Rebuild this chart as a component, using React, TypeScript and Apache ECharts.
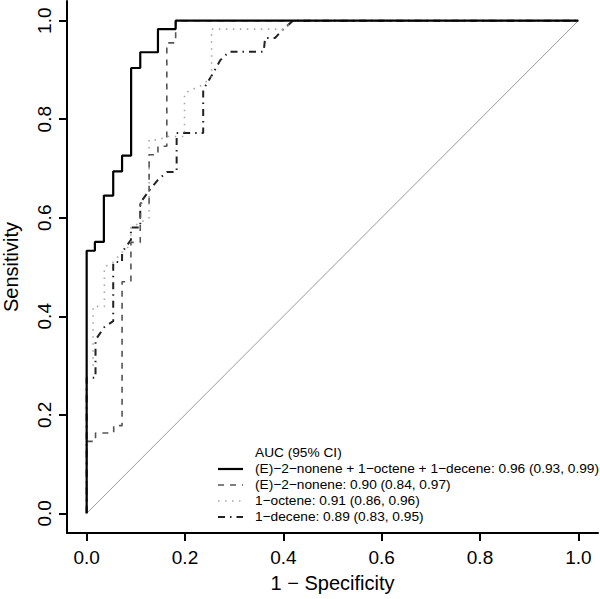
import React, { useEffect, useRef } from "react";
import * as echarts from "echarts";

const tickValues = [0, 0.2, 0.4, 0.6, 0.8, 1.0];
const xTitle = "1 − Specificity";
const yTitle = "Sensitivity";
const legendTitle = "AUC (95% CI)";

const seriesNames = [
  "(E)−2−nonene + 1−octene + 1−decene: 0.96 (0.93, 0.99)",
  "(E)−2−nonene: 0.90 (0.84, 0.97)",
  "1−octene: 0.91 (0.86, 0.96)",
  "1−decene: 0.89 (0.83, 0.95)",
];

const diagonal: [number, number][] = [[0, 0], [1, 1]];

const combo: [number, number][] = [
  [0, 0], [0, 0.533], [0.0167, 0.533], [0.0167, 0.551], [0.035, 0.551], [0.035, 0.645],
  [0.054, 0.645], [0.054, 0.694], [0.072, 0.694], [0.072, 0.726], [0.0904, 0.726],
  [0.0904, 0.904], [0.109, 0.904], [0.109, 0.936], [0.145, 0.936], [0.145, 0.983],
  [0.181, 0.983], [0.181, 1], [1, 1],
];

const nonene: [number, number][] = [
  [0, 0], [0, 0.146], [0.018, 0.146], [0.018, 0.163], [0.055, 0.163], [0.055, 0.178],
  [0.072, 0.178], [0.072, 0.47], [0.09, 0.47], [0.09, 0.55], [0.109, 0.55], [0.109, 0.63],
  [0.127, 0.63], [0.127, 0.728], [0.145, 0.728], [0.145, 0.745], [0.163, 0.745],
  [0.163, 0.955], [0.181, 0.955], [0.181, 1], [1, 1],
];

const octene: [number, number][] = [
  [0, 0], [0, 0.30], [0.013, 0.30], [0.013, 0.42], [0.036, 0.42], [0.036, 0.50],
  [0.054, 0.51], [0.072, 0.53], [0.09, 0.545], [0.09, 0.58], [0.127, 0.60], [0.127, 0.758],
  [0.145, 0.758], [0.163, 0.765], [0.199, 0.765], [0.199, 0.853], [0.236, 0.87],
  [0.254, 0.886], [0.254, 0.983], [0.40, 0.983], [0.42, 1], [1, 1],
];

const decene: [number, number][] = [
  [0, 0], [0, 0.275], [0.018, 0.275], [0.018, 0.352], [0.036, 0.378], [0.054, 0.39],
  [0.054, 0.51], [0.072, 0.51], [0.072, 0.53], [0.09, 0.555], [0.09, 0.58], [0.109, 0.58],
  [0.109, 0.63], [0.127, 0.655], [0.145, 0.677], [0.163, 0.693], [0.183, 0.693],
  [0.183, 0.772], [0.237, 0.772], [0.237, 0.86], [0.255, 0.89], [0.272, 0.92],
  [0.29, 0.937], [0.36, 0.937], [0.363, 0.965], [0.383, 0.965], [0.40, 0.983],
  [0.42, 1], [1, 1],
];

const FONT = "'Liberation Sans', Arial, Helvetica, sans-serif";

const styles = [
  { color: "#000000", width: 2.2, type: "solid" as any },
  { color: "#555555", width: 1.6, type: [6, 6] as any },
  { color: "#a8a8a8", width: 1.6, type: [1.5, 5.5] as any },
  { color: "#222222", width: 2, type: [7, 5, 1.5, 5] as any },
];

export default function App() {
  const ref = useRef<HTMLDivElement>(null);
  useEffect(() => {
    if (!ref.current) return;
    document.body.style.margin = "0";
    const chart = echarts.init(ref.current, null, { renderer: "svg" });
    const datasets = [combo, nonene, octene, decene];
    const legendX1 = 218;
    const legendX2 = 243;
    const legendY0 = 453;
    const legendStep = 16;
    const graphics: any[] = [
      {
        type: "text",
        left: 255,
        top: legendY0 - 8,
        style: { text: legendTitle, font: `13.7px ${FONT}`, fill: "#000" },
      },
    ];
    seriesNames.forEach((name, i) => {
      const y = legendY0 + legendStep * (i + 1);
      graphics.push({
        type: "line",
        shape: { x1: legendX1, y1: y, x2: legendX2, y2: y },
        style: {
          stroke: styles[i].color,
          lineWidth: styles[i].width,
          lineDash: styles[i].type === "solid" ? null : styles[i].type,
        },
      });
      graphics.push({
        type: "text",
        left: 255,
        top: y - 8,
        style: { text: name, font: `13.7px ${FONT}`, fill: "#000" },
      });
    });

    chart.setOption({
      animation: false,
      backgroundColor: "#ffffff",
      grid: { left: 67, right: 2, top: 1, bottom: 66, containLabel: false, outerBoundsMode: "none" },
      xAxis: {
        type: "value",
        min: -0.04,
        max: 1.04,
        name: xTitle,
        nameLocation: "middle",
        nameGap: 40,
        nameTextStyle: { fontFamily: FONT, fontSize: 20, color: "#000" },
        axisLine: { show: true, onZero: false, lineStyle: { color: "#000", width: 2 } },
        axisTick: { show: true, length: 8, customValues: tickValues, lineStyle: { color: "#000", width: 2 } },
        axisLabel: {
          customValues: tickValues,
          formatter: (v: number) => v.toFixed(1),
          fontFamily: FONT,
          fontSize: 19,
          color: "#000",
          margin: 15,
        },
        splitLine: { show: false },
      },
      yAxis: {
        type: "value",
        min: -0.04,
        max: 1.04,
        name: yTitle,
        nameLocation: "middle",
        nameGap: 46,
        nameRotate: 90,
        nameTextStyle: { fontFamily: FONT, fontSize: 20, color: "#000" },
        axisLine: { show: true, onZero: false, lineStyle: { color: "#000", width: 2 } },
        axisTick: { show: true, length: 8, customValues: tickValues, lineStyle: { color: "#000", width: 2 } },
        axisLabel: {
          customValues: tickValues,
          formatter: (v: number) => v.toFixed(1),
          rotate: 90,
          fontFamily: FONT,
          fontSize: 19,
          color: "#000",
          margin: 13,
        },
        splitLine: { show: false },
      },
      series: [
        {
          type: "line",
          data: diagonal,
          showSymbol: false,
          silent: true,
          lineStyle: { color: "#9a9a9a", width: 1 },
        },
        ...datasets.map((d, i) => ({
          type: "line",
          name: seriesNames[i],
          data: d,
          showSymbol: false,
          z: 10 - i,
          lineStyle: { color: styles[i].color, width: styles[i].width, type: styles[i].type },
        })),
      ],
      graphic: graphics,
    });
    return () => chart.dispose();
  }, []);
  return <div ref={ref} style={{ width: 600, height: 599 }} />;
}
